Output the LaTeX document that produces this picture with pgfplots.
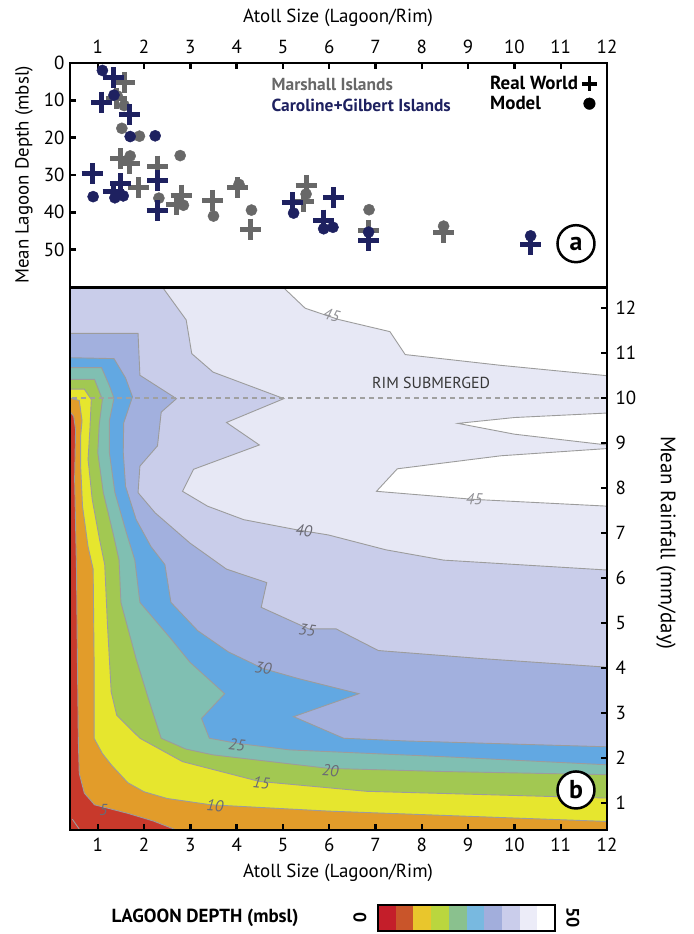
\documentclass[border=0pt]{standalone}
\usepackage{pgfplots}
\pgfplotsset{compat=1.18}
\usepackage{fontspec}
\setmainfont{PT Sans}
\definecolor{mgray}{HTML}{686868}
\definecolor{mnavy}{HTML}{1E2160}
\definecolor{c0}{HTML}{C8392B}
\definecolor{c1}{HTML}{E29C2A}
\definecolor{c2}{HTML}{E6E62E}
\definecolor{c3}{HTML}{A2C852}
\definecolor{c4}{HTML}{80BFB2}
\definecolor{c5}{HTML}{62A8E2}
\definecolor{c6}{HTML}{A2B0DE}
\definecolor{c7}{HTML}{C9CDEA}
\definecolor{c8}{HTML}{E7E8F5}
\definecolor{cline}{HTML}{9C9C9C}
\definecolor{clab}{HTML}{6A6A74}
\definecolor{k0}{HTML}{C41E2A}
\definecolor{k1}{HTML}{C9552A}
\definecolor{k2}{HTML}{E9C62C}
\definecolor{k3}{HTML}{BAD63E}
\definecolor{k4}{HTML}{8AC18E}
\definecolor{k5}{HTML}{78B9E0}
\definecolor{k6}{HTML}{A2AEDC}
\definecolor{k7}{HTML}{CACDEB}
\definecolor{k8}{HTML}{ECECF8}
\definecolor{k9}{HTML}{FFFFFF}
\pgfplotsset{
  common/.style={
    scale only axis, width=537bp, anchor=south west,
    xmin=0.4, xmax=12, xtick={1,...,12},
    axis line style={line width=2.6bp},
    tick align=inside, major tick length=6bp,
    tick style={line width=2.4bp, black},
    /pgf/number format/assume math mode=true,
    tick label style={font=\fontsize{19}{19}\selectfont},
    axis on top,
  },
  cfill/.style={draw=cline, line width=0.9bp, fill=#1},
}
\tikzset{clabel/.style={font=\fontsize{16}{16}\selectfont\itshape, text=clab, inner sep=1bp}}
\begin{document}
\begin{tikzpicture}
\path[use as bounding box] (0,0) rectangle (694bp,934bp);
% ---------- panel a ----------
\begin{axis}[common, at={(70bp,647bp)}, height=224bp,
  ymin=0, ymax=60, y dir=reverse, ytick={0,10,...,50},
  xtick pos=right, xticklabel pos=right, ytick pos=left,
  xticklabel style={yshift=6bp},
  yticklabel style={xshift=-2bp},
  legend plot pos=right,
  legend style={draw=none, fill=none, at={(axis cs:9.43,3.0)}, anchor=north west,
    font=\bfseries\fontsize{19}{20}\selectfont, row sep=1bp, column sep=2bp, inner sep=0bp},
  legend cell align=left,
]
\addlegendimage{only marks, mark=+, black, mark size=7.5bp, mark options={line width=3.8bp}}
\addlegendentry{Real World}
\addlegendimage{only marks, mark=*, black, mark size=5.8bp}
\addlegendentry{Model}
% gray dots
\addplot[only marks, mark=*, mgray, mark size=5.6bp, forget plot] coordinates {
(1.42,8.8) (1.57,11.4) (1.52,17.5) (1.9,19.6) (1.7,24.9) (2.78,24.8) (2.32,36.2)
(2.85,38.1) (3.5,41.0) (4.05,32.5) (4.32,39.4) (5.5,35.1) (6.86,39.3) (8.47,43.7)};
% gray crosses
\addplot[only marks, mark=+, mgray, mark size=10.5bp, mark options={line width=5bp}, forget plot] coordinates {
(1.57,5.2) (1.4,9.5) (1.5,25.6) (1.68,27.0) (2.3,27.6) (1.88,33.4) (2.8,35.4) (2.7,37.8)
(3.48,36.8) (4.02,33.4) (4.3,44.5) (5.5,32.8) (5.45,37.2) (6.85,44.9) (8.47,45.3)};
% navy dots
\addplot[only marks, mark=*, mnavy, mark size=5.6bp, forget plot] coordinates {
(1.1,2.0) (1.35,8.6) (1.7,19.7) (2.24,19.5) (0.9,35.8) (1.37,36.1) (1.55,35.6)
(5.23,40.2) (5.88,44.4) (6.08,44.0) (6.85,45.3) (10.35,46.3)};
% navy crosses
\addplot[only marks, mark=+, mnavy, mark size=10.5bp, mark options={line width=5bp}, forget plot] coordinates {
(1.33,3.9) (1.09,10.5) (1.68,13.8) (0.88,29.6) (1.5,32.3) (1.33,34.3) (2.3,31.6)
(2.28,39.5) (5.2,37.4) (5.88,42.1) (6.1,36.1) (6.85,47.6) (10.35,48.7)};
\node[anchor=west, font=\bfseries\fontsize{17.5}{19}\selectfont, text=mgray] at (axis cs:4.68,5.7) {Marshall Islands};
\node[anchor=west, font=\bfseries\fontsize{17.5}{19}\selectfont, text=mnavy] at (axis cs:4.68,11.4) {Caroline+Gilbert Islands};
\node[circle, draw, line width=2.5bp, fill=white, minimum size=37bp, inner sep=0pt,
  font=\bfseries\fontsize{26}{26}\selectfont] at (axis cs:11.33,48.4) {a};
\end{axis}
% ---------- panel b ----------
\begin{axis}[common, at={(70bp,104bp)}, height=542bp,
  ymin=0.4, ymax=12.45, ytick={1,...,12},
  xtick pos=left, ytick pos=right, yticklabel pos=right,
  xticklabel style={yshift=-5bp},
  yticklabel style={xshift=5bp},
]
\addplot[fill=c8, draw=none] coordinates {(0.4,0.4) (12,0.4) (12,12.45) (0.4,12.45)} -- cycle;
% depth > 45 (white)
\addplot[cfill=white] coordinates {(5.02,12.45)(5.48,12.0)(6.2,11.75)(7.31,11.48)(7.64,10.97)(9.71,10.73)(12,10.5)(12,12.45)} -- cycle;
\addplot[cfill=white] coordinates {(12,9.67)(10,9.57)(8.78,9.44)(10,9.2)(12,8.96)} -- cycle;
\addplot[cfill=white] coordinates {(12,8.88)(9.71,8.72)(7.47,8.43)(7.02,7.93)(9.13,7.75)(12,7.6)} -- cycle;
% < 40
\addplot[cfill=c7] coordinates {(0.4,12.45)(2.41,12.45)(2.91,11.74)(3.03,10.99)(3.49,10.58)(5.02,9.99)(3.78,9.46)(4.49,8.96)(3.07,8.42)(2.83,7.93)(3.37,7.6)(4.15,7.3)(5.32,7.07)(5.98,6.96)(7.22,6.63)(8.47,6.4)(12,6.18)(12,0.4)(0.4,0.4)} -- cycle;
% < 35
\addplot[cfill=c6] coordinates {(0.4,11.44)(1.87,11.44)(1.91,10.51)(2.7,9.99)(2.37,9.69)(2.29,8.94)(1.91,8.49)(1.87,7.9)(2.24,7.45)(2.99,6.78)(3.78,6.2)(4.65,5.9)(4.53,5.35)(5.56,4.87)(6.15,4.87)(7.06,4.39)(9.3,4.21)(12,4.02)(12,0.4)(0.4,0.4)} -- cycle;
% < 30
\addplot[cfill=c5] coordinates {(0.4,10.9)(1.35,10.88)(1.6,10.45)(1.75,10.03)(1.56,9.45)(1.55,8.8)(1.6,8.04)(1.83,7.3)(2.15,6.7)(2.45,6.3)(2.58,5.46)(3.16,4.83)(3.82,4.36)(4.57,3.99)(5.32,3.77)(6.64,3.43)(5.23,2.92)(6.31,2.44)(7.64,2.38)(12,2.25)(12,0.4)(0.4,0.4)} -- cycle;
% < 25
\addplot[cfill=c4] coordinates {(0.4,10.68)(1.08,10.68)(1.25,10.28)(1.35,10.0)(1.25,9.5)(1.25,8.79)(1.37,7.9)(1.62,7.0)(1.8,6.4)(1.91,5.46)(2.58,4.65)(2.99,4.13)(3.74,3.43)(3.24,2.88)(3.41,2.44)(3.99,2.33)(5.15,2.18)(8.47,2.03)(12,1.85)(12,0.4)(0.4,0.4)} -- cycle;
% < 20
\addplot[cfill=c3] coordinates {(0.4,10.42)(0.93,10.42)(1.1,9.97)(1.03,9.4)(1.0,8.79)(1.12,7.9)(1.33,7.0)(1.46,6.4)(1.5,5.46)(1.83,4.2)(2.1,3.3)(2.37,2.44)(2.9,2.2)(3.49,2.07)(5.98,1.77)(8.47,1.7)(12,1.63)(12,0.4)(0.4,0.4)} -- cycle;
% < 15
\addplot[cfill=c2] coordinates {(0.4,10.2)(0.71,10.2)(0.86,9.97)(0.83,9.31)(0.79,8.64)(0.88,7.75)(1.04,6.85)(1.15,6.3)(1.21,4.95)(1.29,3.47)(1.41,2.95)(1.91,2.44)(2.83,1.92)(4.49,1.48)(6.81,1.26)(12,1.11)(12,0.4)(0.4,0.4)} -- cycle;
% < 10
\addplot[cfill=c1] coordinates {(0.4,10.0)(0.6,9.95)(0.66,9.5)(0.63,9.16)(0.63,8.49)(0.67,7.6)(0.79,6.7)(0.9,6.2)(0.92,4.2)(0.92,2.44)(1.1,2.1)(1.29,1.85)(1.65,1.45)(2.0,1.25)(2.5,1.1)(3.45,0.96)(5.98,0.82)(12,0.59)(12,0.4)(0.4,0.4)} -- cycle;
% < 5
\addplot[cfill=c0] coordinates {(0.4,9.7)(0.48,9.6)(0.52,9.3)(0.5,8.2)(0.54,6.2)(0.56,4.2)(0.58,2.4)(0.6,1.66)(0.71,1.22)(0.93,0.96)(1.65,0.77)(2.2,0.6)(2.7,0.4)(0.4,0.4)} -- cycle;
\addplot[cline, line width=0.9bp] coordinates {(0.45,0.64)(0.6,0.42)};
% rim submerged line
\addplot[color={rgb,255:red,160;green,160;blue,160}, line width=2.4bp, dash pattern=on 5bp off 4bp] coordinates {(0.45,10)(12,10)};
\node[font=\fontsize{16}{16}\selectfont, text={rgb,255:red,55;green,55;blue,55}] at (axis cs:8.2,10.33) {RIM SUBMERGED};
% contour labels
\node[clabel, text={rgb,255:red,145;green,145;blue,150}, rotate=-14] at (axis cs:6.05,11.84) {45};
\node[clabel, text={rgb,255:red,145;green,145;blue,150}, rotate=-3] at (axis cs:9.13,7.75) {45};
\node[clabel, rotate=-4] at (axis cs:5.45,7.05) {40};
\node[clabel, rotate=-8] at (axis cs:5.52,4.85) {35};
\node[clabel, rotate=-8] at (axis cs:4.57,4.0) {30};
\node[clabel, rotate=-6] at (axis cs:4.0,2.3) {25};
\node[clabel, rotate=-3] at (axis cs:6.02,1.72) {20};
\node[clabel, rotate=-6] at (axis cs:4.53,1.45) {15};
\node[clabel, rotate=-4] at (axis cs:3.53,0.94) {10};
\node[clabel] at (axis cs:1.12,0.84) {5};
\node[circle, draw, line width=2.5bp, fill=white, minimum size=37bp, inner sep=0pt,
  font=\bfseries\fontsize{26}{26}\selectfont] at (axis cs:11.33,1.29) {b};
\end{axis}
% ---------- outer labels ----------
\node[font=\fontsize{19}{19}\selectfont] at (338bp,916bp) {Atoll Size (Lagoon/Rim)};
\node[font=\fontsize{19}{19}\selectfont, rotate=90] at (24bp,759bp) {Mean Lagoon Depth (mbsl)};
\node[font=\fontsize{21}{21}\selectfont, rotate=-90] at (666bp,391bp) {Mean Rainfall (mm/day)};
\node[font=\fontsize{19}{19}\selectfont] at (338bp,61bp) {Atoll Size (Lagoon/Rim)};
% ---------- colour bar ----------
\foreach \c [count=\i from 0] in {k0,k1,k2,k3,k4,k5,k6,k7,k8,k9} {
  \fill[\c] ({378bp+\i*17.7bp},3bp) rectangle ++(17.7bp,26bp);
}
\draw[line width=2bp] (378bp,3bp) rectangle (555bp,29bp);
\node[rotate=-90, font=\bfseries\fontsize{18}{18}\selectfont] at (360bp,16bp) {0};
\node[rotate=-90, font=\bfseries\fontsize{18}{18}\selectfont] at (573bp,16bp) {50};
\node[font=\bfseries\fontsize{19}{19}\selectfont] at (205bp,16bp) {LAGOON DEPTH (mbsl)};
\end{tikzpicture}
\end{document}
